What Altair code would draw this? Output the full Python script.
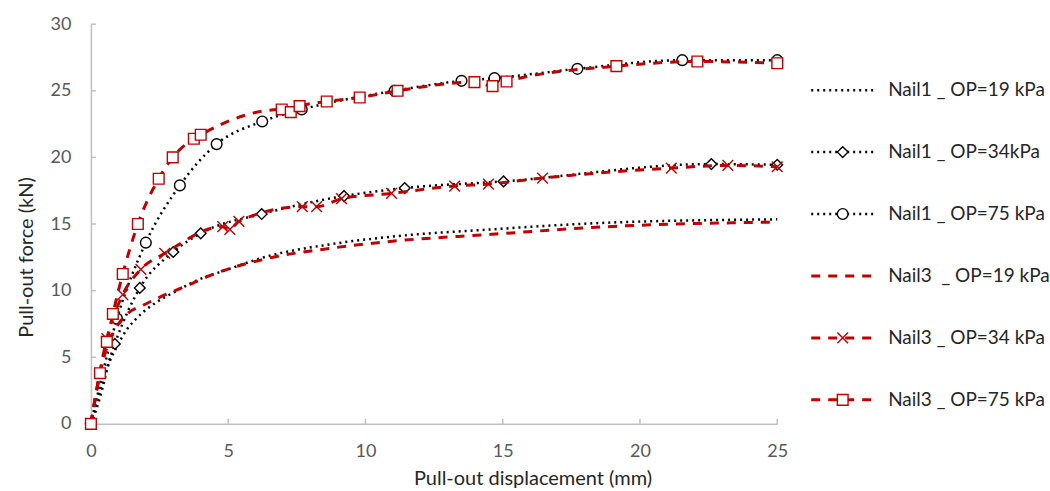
import altair as alt
import pandas as pd

# ---------------- data ----------------
series_names = [
    "Nail1 _ OP=19 kPa",
    "Nail1 _ OP=34kPa",
    "Nail1 _ OP=75 kPa",
    "Nail3\u00a0 _ OP=19 kPa",
    "Nail3 _ OP=34 kPa",
    "Nail3 _ OP=75 kPa",
]

n1_19_x = [0, 0.15, 0.4, 0.62, 0.95, 1.3, 1.7, 2.33, 3.05, 3.9, 5.0, 6.3, 8.8, 11.2, 14.6, 18.8, 25]
n1_19_y = [0, 0.8, 2.5, 4.3, 5.8, 7.05, 8.0, 9.05, 9.9, 10.8, 11.6, 12.5, 13.5, 14.1, 14.6, 15.1, 15.35]

n1_34_x = [0, 0.87, 1.78, 3.0, 4.0, 6.22, 9.22, 11.43, 15.03, 22.6, 25]
n1_34_y = [0, 6.0, 10.2, 12.9, 14.3, 15.75, 17.1, 17.7, 18.2, 19.5, 19.45]

n1_75_x = [0, 0.95, 2.0, 3.24, 4.58, 6.24, 7.68, 11.06, 13.5, 14.7, 17.72, 21.54, 25]
n1_75_y = [0, 7.9, 13.6, 17.9, 21.0, 22.7, 23.6, 25.0, 25.75, 25.95, 26.65, 27.3, 27.3]

n3_19_x = [0, 0.25, 0.5, 0.87, 1.35, 1.9, 2.5, 3.13, 3.7, 4.3, 6.4, 8.8, 11.2, 14.4, 18.8, 25]
n3_19_y = [0, 3.0, 5.2, 7.05, 8.3, 8.9, 9.5, 10.05, 10.55, 11.1, 12.4, 13.2, 13.75, 14.2, 14.8, 15.15]

n3_34_x = [0, 0.58, 1.16, 1.82, 2.69, 4.8, 5.06, 5.39, 7.7, 8.22, 9.13, 10.95, 13.25, 14.48, 16.45, 21.14, 23.2, 25]
n3_34_y = [0, 6.4, 9.7, 11.6, 12.8, 14.8, 14.6, 15.2, 16.3, 16.3, 16.9, 17.3, 17.85, 18.0, 18.45, 19.2, 19.4, 19.3]

n3_75_x = [0, 0.33, 0.58, 0.8, 1.16, 1.71, 2.47, 2.98, 3.75, 4.0, 6.95, 7.28, 7.6, 8.59, 9.79, 11.17,
           13.97, 14.63, 15.14, 19.14, 22.09, 25]
n3_75_y = [0, 3.8, 6.15, 8.25, 11.25, 15.0, 18.4, 20.0, 21.4, 21.7, 23.6, 23.4, 23.85, 24.2, 24.5, 25.0,
           25.65, 25.35, 25.7, 26.85, 27.2, 27.07]

x_ticks = [0, 5, 10, 15, 20, 25]
y_ticks = [0, 5, 10, 15, 20, 25, 30]

series_xy = [(n1_19_x, n1_19_y), (n1_34_x, n1_34_y), (n1_75_x, n1_75_y),
             (n3_19_x, n3_19_y), (n3_34_x, n3_34_y), (n3_75_x, n3_75_y)]
groups = ["N1", "N1", "N1", "N3", "N3", "N3"]
has_marker = [False, True, True, False, True, True]

rows = []
for i, (name, (xs, ys)) in enumerate(zip(series_names, series_xy)):
    for xv, yv in zip(xs, ys):
        rows.append({"series": name, "order": i, "group": groups[i],
                     "marker": has_marker[i], "x": xv, "y": yv})
df = pd.DataFrame(rows)

legend_df = pd.DataFrame({
    "series": series_names,
    "row": list(range(len(series_names))),
    "group": groups,
    "marker": has_marker,
})

# ---------------- styles ----------------
BLACK = "#000000"
RED = "#C00000"
AXIS = "#BFBFBF"
FONT = "Lato"

color_scale = alt.Scale(domain=series_names, range=[BLACK, BLACK, BLACK, RED, RED, RED])
dash_scale = alt.Scale(domain=series_names,
                       range=[[2, 4], [2, 4], [2, 4], [9, 8], [9, 8], [9, 8]])
xshape = "M-1,-1L1,1M-1,1L1,-1"
shape_scale = alt.Scale(domain=series_names,
                        range=["circle", "diamond", "circle", "circle", xshape, "square"])

W, H = 687, 400

x_enc = alt.X("x:Q", scale=alt.Scale(domain=[0, 25], nice=False),
              axis=alt.Axis(values=x_ticks, title="Pull-out displacement (mm)", grid=False,
                            ticks=False, labelPadding=19, labelFontSize=18, labelFont=FONT,
                            labelColor="#595959", titleFont=FONT, titleFontSize=20,
                            titleFontWeight="normal", titleColor="#262626",
                            titleX=442, titleY=61, titleBaseline="alphabetic",
                            domainColor=AXIS, domainWidth=1.5, labelFlush=False))
y_enc = alt.Y("y:Q", scale=alt.Scale(domain=[0, 30], nice=False),
              axis=alt.Axis(values=y_ticks, title="Pull-out force (kN)", grid=False,
                            ticks=False, labelPadding=20, labelFontSize=18, labelFont=FONT,
                            labelColor="#595959", titleFont=FONT, titleFontSize=20,
                            titleFontWeight="normal", titleColor="#262626",
                            titleY=233, titlePadding=14,
                            domainColor=AXIS, domainWidth=1.5, labelFlush=False))

base = alt.Chart(df)

def lines(group, width):
    return base.transform_filter(alt.datum.group == group).mark_line(
        interpolate="monotone", strokeWidth=width, strokeCap="butt"
    ).encode(
        x=x_enc, y=y_enc,
        color=alt.Color("series:N", scale=color_scale, legend=None),
        strokeDash=alt.StrokeDash("series:N", scale=dash_scale, legend=None),
        detail="series:N",
        order="x:Q",
    )

def points(group):
    return base.transform_filter(
        (alt.datum.group == group) & (alt.datum.marker == True)
    ).mark_point(size=115, strokeWidth=1.4, fill="white", fillOpacity=1, opacity=1).encode(
        x="x:Q", y="y:Q",
        color=alt.Color("series:N", scale=color_scale, legend=None),
        shape=alt.Shape("series:N", scale=shape_scale, legend=None),
    )

xt = alt.Chart(pd.DataFrame({"x": x_ticks})).mark_rule(color=AXIS, strokeWidth=1.5).encode(
    x="x:Q", y=alt.value(H), y2=alt.value(H - 5))
yt = alt.Chart(pd.DataFrame({"y": y_ticks})).mark_rule(color=AXIS, strokeWidth=1.5).encode(
    y="y:Q", x=alt.value(0), x2=alt.value(5))

main = alt.layer(
    xt, yt,
    lines("N1", 2.5), points("N1"),
    lines("N3", 3), points("N3"),
).properties(width=W, height=H)

# ---------------- legend ----------------
row_scale = alt.Scale(domain=[-66 / 62, (H - 66) / 62], reverse=True, nice=False, zero=False)
lx_scale = alt.Scale(domain=[0, 1], nice=False)
lbase = alt.Chart(legend_df)

def leg_lines(group, width):
    return lbase.transform_filter(alt.datum.group == group).mark_rule(
        strokeWidth=width, strokeCap="butt").encode(
        x=alt.X(datum=0, scale=lx_scale, axis=None),
        x2=alt.X2(datum=1),
        y=alt.Y("row:Q", scale=row_scale, axis=None),
        color=alt.Color("series:N", scale=color_scale, legend=None),
        strokeDash=alt.StrokeDash("series:N", scale=dash_scale, legend=None),
    )

def leg_points(group):
    return lbase.transform_filter(
        (alt.datum.group == group) & (alt.datum.marker == True)
    ).mark_point(size=115, strokeWidth=1.4, fill="white", fillOpacity=1, opacity=1).encode(
        x=alt.X(datum=0.5, scale=lx_scale, axis=None),
        y=alt.Y("row:Q", scale=row_scale, axis=None),
        color=alt.Color("series:N", scale=color_scale, legend=None),
        shape=alt.Shape("series:N", scale=shape_scale, legend=None),
    )

leg_text = lbase.mark_text(align="left", baseline="middle", dx=14, font=FONT,
                           fontSize=19, color="#262626").encode(
    x=alt.X(datum=1, scale=lx_scale, axis=None),
    y=alt.Y("row:Q", scale=row_scale, axis=None),
    text="series:N",
)

legend = alt.layer(
    leg_lines("N1", 2.5), leg_points("N1"),
    leg_lines("N3", 3), leg_points("N3"),
    leg_text,
).properties(width=63, height=H)

chart = alt.hconcat(main, legend, spacing=21).properties(
    padding={"left": 16, "top": 15, "right": 0, "bottom": 0}
).configure_view(stroke=None).configure_concat(spacing=21)

chart.save("out.html", embed_options={"renderer": "svg", "actions": False})
